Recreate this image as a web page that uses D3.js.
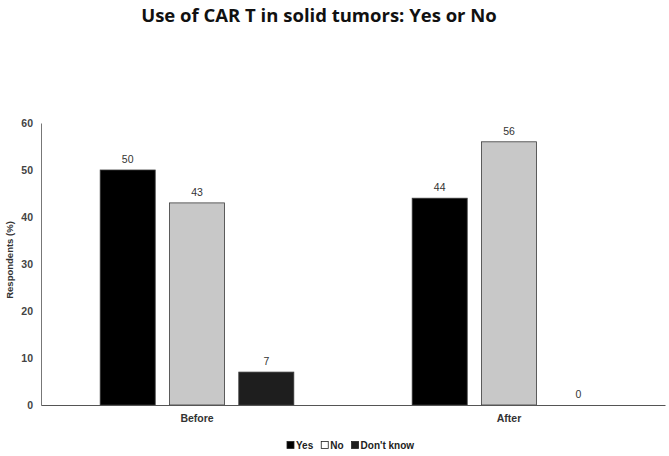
<!DOCTYPE html>
<html><head><meta charset="utf-8">
<script src="https://cdn.jsdelivr.net/npm/d3@7"></script>
<style>body{margin:0;background:#fff}svg{display:block}</style>
</head><body>
<svg id="c" width="669" height="456"></svg>
<script>
const categories = ["Before", "After"];
const seriesNames = ["Yes", "No", "Don't know"];
const yesValues = [50, 44];
const noValues = [43, 56];
const dontKnowValues = [7, 0];
const yTicks = [0, 10, 20, 30, 40, 50, 60];

(function () {
const seriesValues = [yesValues, noValues, dontKnowValues];
const colors = ["#000000", "#c8c8c8", "#1e1e1e"];

const svg = d3.select("#c");
const mLeft = 41, mRight = 665, mTop = 123, mBottom = 405;

const y = d3.scaleLinear().domain([0, 60]).range([mBottom, mTop]);
const x0 = d3.scaleBand().domain(categories).range([mLeft, mRight]).padding(0);
const x1 = d3.scaleBand().domain(seriesNames).range([0, x0.bandwidth()]).paddingInner(0.206).paddingOuter(0.854);

svg.append("text").attr("x", 319).attr("y", 22).attr("text-anchor", "middle")
  .attr("font-family", "Open Sans").attr("font-weight", "bold").attr("font-size", 18.5)
  .attr("fill", "#111").text("Use of CAR T in solid tumors: Yes or No");

// y axis
const yAxis = svg.append("g").attr("transform", `translate(${mLeft},0)`)
  .call(d3.axisLeft(y).tickValues(yTicks).tickSize(0).tickPadding(8));
yAxis.select(".domain").attr("stroke", "#777");
yAxis.selectAll("text").attr("font-family", "Liberation Sans").attr("font-weight", "bold")
  .attr("font-size", 10.5).attr("fill", "#444");

svg.append("text").attr("transform", `translate(13,${(mTop + mBottom) / 2 - 4}) rotate(-90)`)
  .attr("text-anchor", "middle").attr("font-family", "Liberation Sans").attr("font-weight", "bold")
  .attr("font-size", 9.5).attr("fill", "#333").text("Respondents (%)");

// bars
const groups = svg.append("g").selectAll("g").data(categories).join("g")
  .attr("transform", d => `translate(${x0(d)},0)`);
groups.each(function (cat, ci) {
  const g = d3.select(this);
  seriesNames.forEach((s, si) => {
    const v = seriesValues[si][ci];
    if (v > 0) {
      g.append("rect").attr("x", x1(s)).attr("y", y(v)).attr("width", x1.bandwidth())
        .attr("height", y(0) - y(v)).attr("fill", colors[si]).attr("stroke", "#3a3a3a").attr("stroke-width", 0.8);
    }
    g.append("text").attr("x", x1(s) + x1.bandwidth() / 2).attr("y", y(v) - 7)
      .attr("text-anchor", "middle").attr("font-family", "Liberation Sans").attr("font-size", 10.5)
      .attr("fill", "#333").text(v);
  });
});

// x axis
const xAxis = svg.append("g").attr("transform", `translate(0,${mBottom})`)
  .call(d3.axisBottom(x0).tickSize(0).tickPadding(10));
xAxis.select(".domain").attr("stroke", "#555");
xAxis.selectAll("text").attr("font-family", "Liberation Sans").attr("font-weight", "bold")
  .attr("font-size", 10.5).attr("fill", "#333");

// legend
const legend = svg.append("g").attr("transform", "translate(287,449)");
let lx = 0;
seriesNames.forEach((s, i) => {
  legend.append("rect").attr("x", lx).attr("y", -7.5).attr("width", 7).attr("height", 7)
    .attr("fill", i === 1 ? "#fff" : colors[i]).attr("stroke", "#222").attr("stroke-width", 0.8);
  const t = legend.append("text").attr("x", lx + 9).attr("y", 0)
    .attr("font-family", "Liberation Sans").attr("font-weight", "bold").attr("font-size", 10)
    .attr("fill", "#222").text(s);
  lx += 9 + t.node().getComputedTextLength() + 8;
});
})();
</script>
</body></html>
